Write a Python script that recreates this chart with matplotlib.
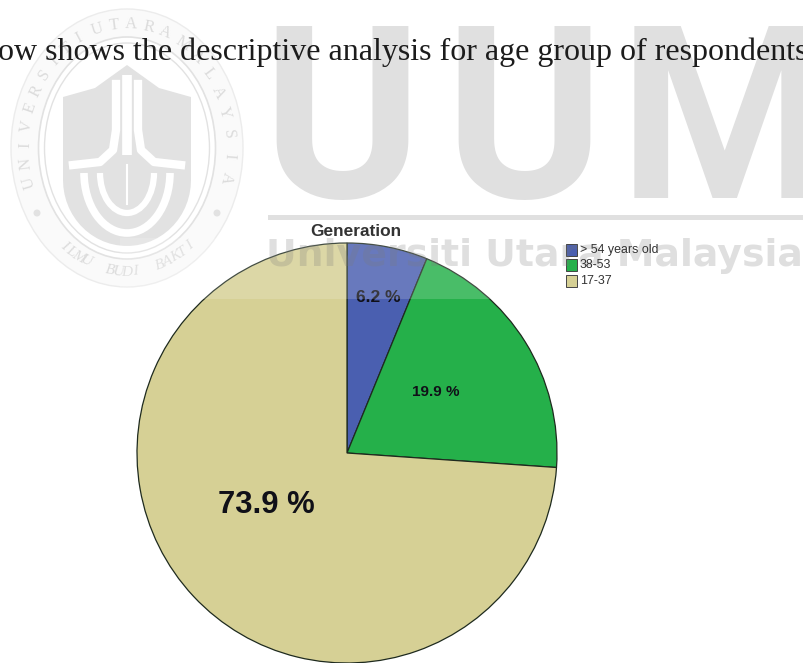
import numpy as np
import matplotlib
matplotlib.use('Agg')
import matplotlib.pyplot as plt
from matplotlib.patches import Arc, Circle, Ellipse, Rectangle, Polygon

W, H = 804, 663

shares = [6.2, 19.9, 73.9]
groups = ['> 54 years old', '38-53', '17-37']
colors = ['#4a5fb0', '#25b04a', '#d6d095']
share_labels = ['6.2 %', '19.9 %', '73.9 %']
label_sizes = [12.5, 11, 22.3]

caption = 'ow shows the descriptive analysis for age group of respondents.'
title = 'Generation'
mark_big = ['U', 'U', 'M']
mark_line = 'Universiti Utara Malaysia'

fig = plt.figure(figsize=(W / 100, H / 100), dpi=100, facecolor='white')

# page layer, in pixel coordinates
bg = fig.add_axes([0, 0, 1, 1], zorder=0)
bg.set_xlim(0, W)
bg.set_ylim(H, 0)
bg.axis('off')

grey = '#e0e0e0'
for ch, mx in zip(mark_big, [341.5, 524, 725]):
    bg.text(mx, 198, ch, family='Roboto', weight='bold', fontsize=174,
            color=grey, ha='center', va='baseline')
bg.add_patch(Rectangle((268, 215), 536, 5, color=grey, lw=0))

# seal: rings
sx, sy = 127, 148
bg.add_patch(Ellipse((sx, sy), 232, 278, fc='#fafafa', ec='#ececec', lw=1))
bg.add_patch(Ellipse((sx, sy), 177, 222, fc='white', ec='#e2e2e2', lw=1.2))
bg.add_patch(Ellipse((sx, sy), 165, 210, fill=False, ec='#e2e2e2', lw=1))
bg.add_patch(Circle((37, 213), 3.5, color='#e2e2e2', lw=0))
bg.add_patch(Circle((217, 213), 3.5, color='#e2e2e2', lw=0))

# seal: shield with the white emblem cut out of it
ang = np.radians(np.linspace(0, 180, 30))
shield_low = np.column_stack([sx + 64 * np.cos(ang), 180 + 66 * np.sin(ang)])
shield = [(63, 97), (95, 88), (127, 65), (159, 88), (191, 97)] + list(map(tuple, shield_low))
bg.add_patch(Polygon(shield, color='#e2e2e2', lw=0))
bg.plot([sx, sx], [75, 155], color='white', lw=7, solid_capstyle='butt')
bg.plot([73, 100, 113, 116, 116], [165, 162, 150, 130, 84], color='white', lw=6)
bg.plot([181, 154, 141, 138, 138], [165, 162, 150, 130, 84], color='white', lw=6)
for half_w, depth, lw in [(43, 60, 5.5), (27, 40, 4.5)]:
    bg.add_patch(Arc((sx, 173), 2 * half_w, 2 * depth, theta1=0, theta2=180, ec='white', lw=lw))
bg.plot([sx, sx], [165, 204], color='white', lw=1.5)

# seal: lettering set letter by letter along the ring
def ring_text(txt, start, stop, rx, ry, upper=True, **kw):
    for ch, deg in zip(txt, np.linspace(start, stop, len(txt))):
        t = np.radians(deg)
        rot = deg - 90 if upper else deg + 90
        bg.text(sx + rx * np.cos(t), sy - ry * np.sin(t), ch, rotation=rot, rotation_mode='anchor',
                family='Liberation Serif', color='#dcdcdc', ha='center', va='center', **kw)

ring_text('UNIVERSITI', 196, 118, 102, 124, fontsize=12)
ring_text('UTARA', 107, 68, 102, 124, fontsize=12)
ring_text('MALAYSIA', 57, -14, 102, 124, fontsize=12)
ring_text('ILMU  BUDI  BAKTI', 232, 308, 102, 124, upper=False, fontsize=11, style='italic')

bg.text(-2, 60, caption, family='Liberation Serif', fontsize=23, color='#1c1c1c',
        ha='left', va='baseline')

# pie, centre (347, 453), radius 210 px
cx, cy, r = 347, 453, 210
ax = fig.add_axes([(cx - r) / W, 1 - (cy + r) / H, 2 * r / W, 2 * r / H], zorder=1)
wedges, _ = ax.pie(shares, colors=colors, startangle=90, counterclock=False, radius=1,
                   wedgeprops={'edgecolor': '#1e2a1e', 'linewidth': 0.9})
ax.set_xlim(-1, 1)
ax.set_ylim(-1, 1)
ax.set_aspect('equal')
ax.patch.set_alpha(0)
for a, b, txt, size in zip([0.15, 0.423, -0.386], [0.74, 0.29, -0.248], share_labels, label_sizes):
    ax.text(a, b, txt, family='Liberation Sans', weight='bold', fontsize=size, color='#101018',
            ha='center', va='center')

# overlay layer: pale band and grey wordmark sit on top of the pie
top = fig.add_axes([0, 0, 1, 1], zorder=2)
top.set_xlim(0, W)
top.set_ylim(H, 0)
top.axis('off')
top.patch.set_alpha(0)
top.add_patch(Rectangle((120, 238), 450, 61, color='white', alpha=0.17, lw=0))
top.text(266, 266, mark_line, family='DejaVu Sans', weight='bold', fontsize=27.3, color='#7a7a7a',
         alpha=0.24, ha='left', va='baseline')
top.text(310, 236, title, family='Liberation Sans', weight='bold', fontsize=12.4, color='#333333',
         ha='left', va='baseline')
for i, (g, c) in enumerate(zip(groups, colors)):
    y = 244 + i * 15.3
    top.add_patch(Rectangle((566, y), 11, 12, fc=c, ec='#444444', lw=0.7))
    top.text(580, y + 6, g, family='Liberation Sans', fontsize=8.9, color='#333333',
             ha='left', va='center')

fig.savefig('out.png', dpi=100)
